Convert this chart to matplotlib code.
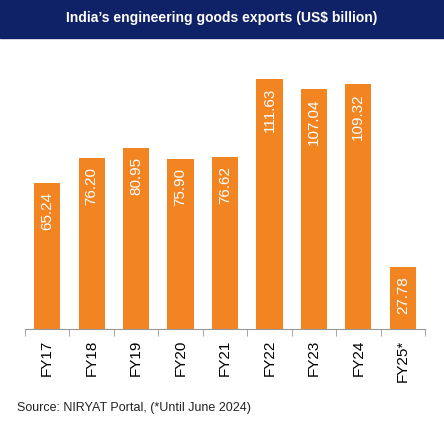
import matplotlib
matplotlib.use("Agg")
import matplotlib.pyplot as plt
from matplotlib.patches import Rectangle

categories = ["FY17", "FY18", "FY19", "FY20", "FY21", "FY22", "FY23", "FY24", "FY25*"]
values = [65.24, 76.20, 80.95, 75.90, 76.62, 111.63, 107.04, 109.32, 27.78]
value_labels = ["65.24", "76.20", "80.95", "75.90", "76.62", "111.63", "107.04", "109.32", "27.78"]
title = "India’s engineering goods exports (US$ billion)"
source = "Source: NIRYAT Portal, (*Until June 2024)"

W, H = 444, 447
fig = plt.figure(figsize=(W / 100, H / 100), dpi=100)
plt.rcParams['font.family'] = ['Liberation Sans', 'DejaVu Sans']

# title band
fig.patches.append(Rectangle((0, 1 - 38 / H), 1, 38 / H, transform=fig.transFigure,
                             color="#0f2167", zorder=0))
fig.text(0.5, 1 - 18 / H, title, color="white", fontsize=10, fontweight="bold",
         ha="center", va="center")

# axes: x 25..425, y bottom 329, top 45
ax_left, ax_right = 25, 425
ax_bottom, ax_top = 329, 45
ax = fig.add_axes([ax_left / W, 1 - ax_bottom / H, (ax_right - ax_left) / W, (ax_bottom - ax_top) / H])
scale = 2.24  # px per unit
ymax = (ax_bottom - ax_top) / scale

x = list(range(len(categories)))
ax.bar(x, values, width=0.59, color="#f28522", zorder=2)
ax.set_xlim(-0.5, len(categories) - 0.5)
ax.set_ylim(0, ymax)

for xi, v, lab in zip(x, values, value_labels):
    ax.text(xi, v - 9 / scale, lab, rotation=90, ha="center", va="top",
            color="white", fontsize=11)

for s in ["top", "right", "left"]:
    ax.spines[s].set_visible(False)
ax.spines["bottom"].set_color("#999999")
ax.set_yticks([])
ax.set_xticks(x)
ax.set_xticklabels(categories, rotation=90, fontsize=11)
ax.tick_params(axis="x", which="major", length=0, pad=8)
ax.set_xticks([i - 0.5 for i in range(len(categories) + 1)], minor=True)
ax.tick_params(axis="x", which="minor", length=5, color="#999999")

fig.text(17 / W, 1 - 408 / H, source, fontsize=9, ha="left", va="center", color="#222222")

fig.savefig("out.png", dpi=100)
